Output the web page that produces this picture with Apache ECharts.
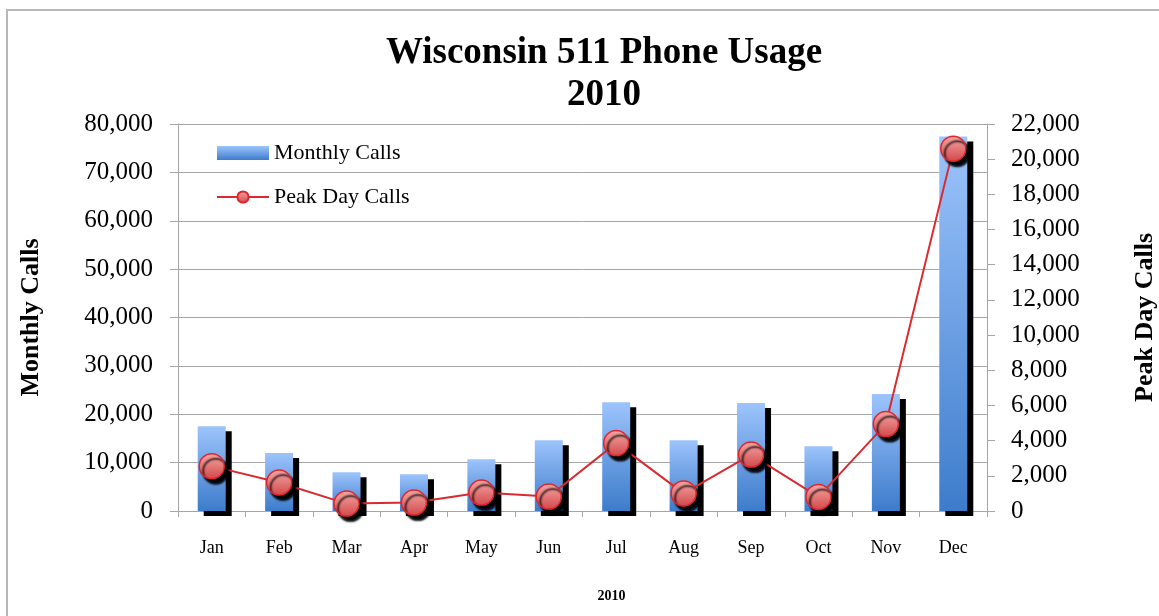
<!DOCTYPE html>
<html>
<head>
<meta charset="utf-8">
<script src="https://cdn.jsdelivr.net/npm/echarts@6/dist/echarts.min.js"></script>
<style>html,body{margin:0;padding:0;background:#fff}#c{width:1159px;height:616px}</style>
</head>
<body>
<div id="c"></div>
<script>
const months = ['Jan','Feb','Mar','Apr','May','Jun','Jul','Aug','Sep','Oct','Nov','Dec'];
const monthlyCalls = [17500, 12000, 8000, 7600, 10700, 14600, 22500, 14600, 22300, 13400, 24200, 77400];
const peakDayCalls = [2550, 1620, 420, 480, 1050, 820, 3860, 1000, 3210, 800, 4940, 20600];
const leftTicks = {min: 0, max: 80000, interval: 10000};
const rightTicks = {min: 0, max: 22000, interval: 2000};

const serif = '"Liberation Serif", "Times New Roman", serif';
const fmt = v => v.toLocaleString('en-US');
const chart = echarts.init(document.getElementById('c'));
const barGrad = new echarts.graphic.LinearGradient(0,0,0,1,[{offset:0,color:'#9dc4fc'},{offset:1,color:'#3d7ccb'}]);
const dotGrad = new echarts.graphic.LinearGradient(0,0,0,1,[{offset:0,color:'#f7a9a6'},{offset:1,color:'#d1474a'}]);
chart.setOption({
  animation: false,
  textStyle: {fontFamily: serif},
  graphic: [{type:'rect', shape:{x:7,y:10,width:1300,height:700}, style:{fill:'none', stroke:'#b8b8b8', lineWidth:2}, silent:true}],
  title: {
    text: 'Wisconsin 511 Phone Usage\n2010',
    left: 599, top: 27, textAlign: 'center',
    textStyle: {fontFamily: serif, fontSize: 37, fontWeight: 'bold', color: '#000', lineHeight: 42}
  },
  legend: {
    orient: 'vertical', left: 211, top: 137, itemWidth: 52, itemHeight: 14, itemGap: 22,
    textStyle: {fontFamily: serif, fontSize: 22, color: '#000'},
    data: [
      {name: 'Monthly Calls', icon: 'rect', itemStyle: {color: barGrad, shadowBlur:0, shadowOffsetX:0, shadowOffsetY:0}},
      {name: 'Peak Day Calls'}
    ]
  },
  grid: {left: 178, right: 172, top: 124, bottom: 105, containLabel: false, outerBoundsMode: 'none'},
  xAxis: {
    type: 'category', data: months, boundaryGap: true,
    name: '2010', nameLocation: 'middle', nameGap: 78,
    nameTextStyle: {fontFamily: serif, fontSize: 14, fontWeight: 'bold', color: '#000', padding: [0,0,0,58]},
    axisLine: {lineStyle: {color: '#a6a6a6'}},
    axisTick: {show: true, length: 6, lineStyle: {color: '#a6a6a6'}},
    axisLabel: {color: '#000', fontSize: 18, margin: 28, fontFamily: serif}
  },
  yAxis: [{
    type: 'value', ...leftTicks, position: 'left',
    name: 'Monthly Calls', nameLocation: 'middle', nameGap: 134, nameRotate: 90,
    nameTextStyle: {fontFamily: serif, fontSize: 26, fontWeight: 'bold', color: '#000'},
    axisLine: {show: true, lineStyle: {color: '#a6a6a6'}},
    axisTick: {show: true, length: 8, lineStyle: {color: '#a6a6a6'}},
    splitLine: {show: true, lineStyle: {color: '#a6a6a6', width: 1}},
    axisLabel: {color: '#000', fontSize: 25, margin: 25, formatter: fmt}
  }, {
    type: 'value', ...rightTicks, position: 'right',
    name: 'Peak Day Calls', nameLocation: 'middle', nameGap: 145, nameRotate: 90,
    nameTextStyle: {fontFamily: serif, fontSize: 26, fontWeight: 'bold', color: '#000'},
    axisLine: {show: true, lineStyle: {color: '#a6a6a6'}},
    axisTick: {show: true, inside: false, length: 8, lineStyle: {color: '#a6a6a6'}},
    splitLine: {show: false},
    axisLabel: {color: '#000', fontSize: 25, margin: 24, formatter: fmt}
  }],
  series: [{
    name: 'Monthly Calls', type: 'bar', yAxisIndex: 0, data: monthlyCalls, barWidth: 28,
    itemStyle: {color: barGrad, shadowColor: '#000', shadowBlur: 0, shadowOffsetX: 6, shadowOffsetY: 5}
  }, {
    name: 'Peak Day Calls', type: 'line', yAxisIndex: 1, data: peakDayCalls,
    symbol: 'circle', symbolSize: 25,
    lineStyle: {color: '#da2a30', width: 2},
    itemStyle: {color: dotGrad, borderColor: '#e0252d', borderWidth: 1.5, shadowColor: '#000', shadowBlur: 2, shadowOffsetX: 4, shadowOffsetY: 5}
  }]
});
</script>
</body>
</html>
